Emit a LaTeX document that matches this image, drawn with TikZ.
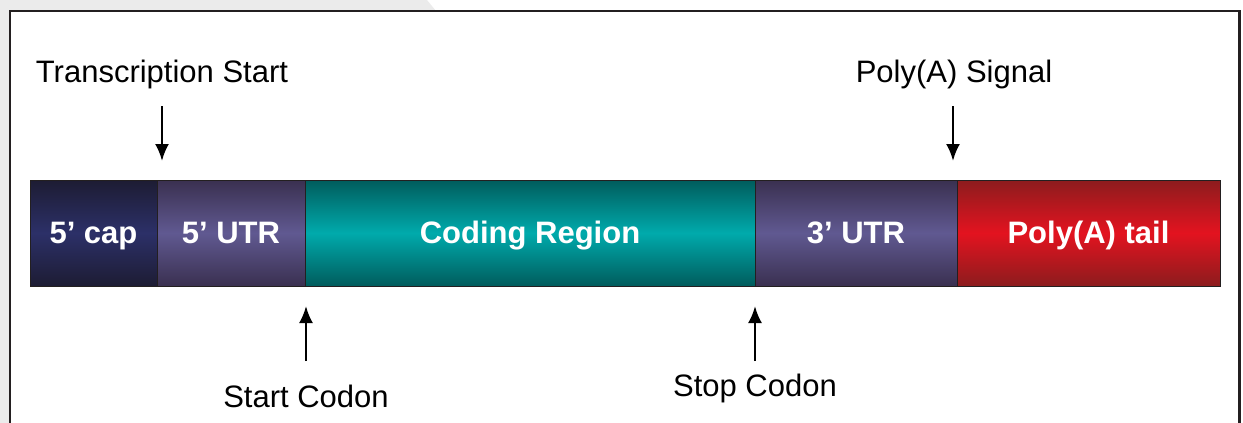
\documentclass[tikz,border=0pt]{standalone}
\usepackage{fontspec}
\setmainfont{Liberation Sans}
\usetikzlibrary{arrows.meta}

\definecolor{bggray}{HTML}{EBEBEB}
\definecolor{framegray}{HTML}{231F20}
\definecolor{capdark}{HTML}{1D1C33}
\definecolor{capmid}{HTML}{2C3068}
\definecolor{utrdark}{HTML}{3A3050}
\definecolor{utrmid}{HTML}{605991}
\definecolor{cdsdark}{HTML}{005C5C}
\definecolor{cdsmid}{HTML}{00AAAC}
\definecolor{polydark}{HTML}{8C1C1E}
\definecolor{polymid}{HTML}{E3131F}

\begin{document}
\begin{tikzpicture}[x=1pt,y=-1pt,
    segment/.style={draw=framegray, line width=1pt, outer sep=0pt, inner sep=0pt,
        minimum height=106pt, text=white, text height=28pt, text depth=7pt,
        font=\fontsize{31}{31}\selectfont\bfseries},
    sitelabel/.style={anchor=base, font=\fontsize{31}{31}\selectfont},
    pointer/.style={line width=2.5pt, -{Latex[length=17pt,width=14pt]}}]
    \useasboundingbox (0,0) rectangle (1243,423);

    % Background and frame
    \fill[bggray] (0,0) rectangle (10,423);
    \fill[bggray] (0,0) -- (427,0) -- (436,11) -- (0,11) -- cycle;
    \draw[framegray, line width=2pt] (10,423) -- (10,11) -- (1239,11);
    \draw[framegray, line width=3pt] (1239,10) -- (1239,423);

    % mRNA segments
    \node[segment, minimum width=127pt, top color=capdark, bottom color=capdark, middle color=capmid]
        (cap) at (93.5,233) {5’ cap};
    \node[segment, minimum width=148pt, top color=utrdark, bottom color=utrdark, middle color=utrmid]
        (utr5) at (231,233) {5’ UTR};
    \node[segment, minimum width=450pt, top color=cdsdark, bottom color=cdsdark, middle color=cdsmid]
        (cds) at (530,233) {Coding Region};
    \node[segment, minimum width=202pt, top color=utrdark, bottom color=utrdark, middle color=utrmid]
        (utr3) at (856,233) {3’ UTR};
    \node[segment, minimum width=263pt, top color=polydark, bottom color=polydark, middle color=polymid]
        (polyA) at (1088.5,233) {Poly(A) tail};

    % Labels above
    \node[sitelabel] (tstart) at (162,82) {Transcription Start};
    \node[sitelabel] (psignal) at (954,82) {Poly(A) Signal};

    % Labels below
    \node[sitelabel] (startc) at (306,407) {Start Codon};
    \node[sitelabel] (stopc) at (755,396) {Stop Codon};

    % Arrows
    \coordinate (tsFrom) at (162,106);
    \coordinate (tsTo) at (162,161);
    \coordinate (psFrom) at (953,106);
    \coordinate (psTo) at (953,161);
    \coordinate (scFrom) at (306,361);
    \coordinate (scTo) at (306,306);
    \coordinate (ecFrom) at (755,361);
    \coordinate (ecTo) at (755,306);
    \draw[pointer] (tsFrom) -- (tsTo);
    \draw[pointer] (psFrom) -- (psTo);
    \draw[pointer] (scFrom) -- (scTo);
    \draw[pointer] (ecFrom) -- (ecTo);

\end{tikzpicture}
\end{document}
